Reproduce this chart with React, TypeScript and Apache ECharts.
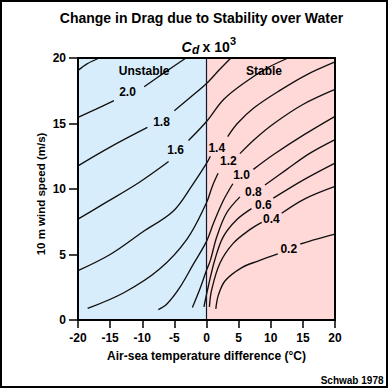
import React, { useEffect, useRef } from "react";
import * as echarts from "echarts";

const FONT = "'Liberation Sans', Arial, Helvetica, sans-serif";

// Axis ranges
const xMin = -20;
const xMax = 20;
const yMin = 0;
const yMax = 20;
const tickStep = 5;

// Contour segments (air-sea temperature difference, wind speed)
const c22 = [[-20, 19.05], [-18.6, 19.55], [-16.7, 20]];
const c20Low = [[-20, 15.47], [-17.2, 16.1], [-14.4, 16.74]];
const c20High = [[-9.7, 17.8], [-6.5, 18.9], [-3.2, 20]];
const c18Low = [[-20, 11.77], [-15, 13.2], [-9.2, 14.7]];
const c18High = [[-5.0, 15.98], [-2.5, 17.0], [0, 18.05], [2, 19.1], [3.8, 20]];
const c16Low = [[-20, 7.7], [-15.9, 8.9], [-10.5, 10.5], [-5.9, 12.1]];
const c16High = [[-2.8, 13.7], [0, 15.15], [2.7, 16.85], [6.3, 18.25], [9.5, 19.25], [12.7, 20]];
const c14Low = [[-20, 3.77], [-15, 5.0], [-10, 6.7], [-5.2, 8.3], [-2.2, 10.3], [0, 11.95], [0.6, 12.5]];
const c14High = [[3.3, 14.0], [4.8, 15.0], [7.4, 16.2], [11.5, 17.55], [15.5, 18.7], [20, 19.7]];
const c12Low = [[-18.5, 0.88], [-12.8, 2.1], [-7.4, 3.85], [-3.0, 6.2], [0, 8.95], [0.9, 10.2], [1.8, 11.2]];
const c12High = [[5.2, 12.7], [7.5, 13.8], [10.5, 15.0], [15, 16.45], [20, 17.6]];
const c10Low = [[-7.5, 0.8], [-6.2, 1.2], [-4.2, 2.45], [-2, 4.3], [0, 6.0], [1.1, 7.4], [2.6, 9.1], [4.1, 10.4]];
const c10High = [[7.3, 11.5], [10.5, 12.65], [15.2, 14.15], [20, 15.55]];
const c08Low = [[-2.2, 0.95], [-1.0, 2.4], [0, 3.8], [0.6, 4.55], [1.6, 6.35], [3.1, 8.15], [5.2, 9.4]];
const c08High = [[9.1, 10.3], [12.5, 11.5], [16, 12.7], [20, 13.77]];
const c06Low = [[-0.4, 1.0], [0.25, 2.5], [1.3, 4.6], [2.6, 6.35], [4.7, 7.65], [7.0, 8.5]];
const c06High = [[10.4, 9.3], [15.1, 10.7], [20, 11.98]];
const c04Low = [[0.45, 1.0], [0.8, 2.3], [2.1, 4.35], [4.15, 5.85], [6.75, 6.9], [8.6, 7.45]];
const c04High = [[11.7, 8.15], [15.3, 9.25], [20, 10.2]];
const c02Low = [[1.45, 0.85], [1.85, 1.9], [2.9, 3.0], [5.5, 4.0], [8.0, 4.5], [11.1, 5.05]];
const c02High = [[14.6, 5.8], [17, 6.15], [20, 6.55]];

const segments = [
  c22, c20Low, c20High, c18Low, c18High, c16Low, c16High, c14Low, c14High,
  c12Low, c12High, c10Low, c10High, c08Low, c08High, c06Low, c06High,
  c04Low, c04High, c02Low, c02High,
];

// Contour labels
const labelTexts = ["2.0", "1.8", "1.6", "1.4", "1.2", "1.0", "0.8", "0.6", "0.4", "0.2"];
const labelXs = [-12.3, -7.0, -4.8, 1.6, 3.4, 5.45, 7.3, 8.85, 10.1, 12.8];
const labelYs = [17.4, 15.15, 12.95, 13.15, 12.1, 11.1, 9.8, 8.75, 7.7, 5.45];

// Region names
const regionTexts = ["Unstable", "Stable"];
const regionXs = [-9.7, 8.95];
const regionYs = [19.0, 19.0];

const BLUE = "#d8edfb";
const PINK = "#ffd8d8";

export default function App() {
  const ref = useRef<HTMLDivElement>(null);

  useEffect(() => {
    if (!ref.current) return;
    const chart = echarts.init(ref.current, undefined, { renderer: "svg" });

    const contourSeries = segments.map((seg) => ({
      type: "line",
      data: seg,
      smooth: 0.35,
      symbol: "none",
      silent: true,
      z: 2,
      lineStyle: { color: "#111", width: 1.35 },
    }));

    const allTexts = labelTexts.concat(regionTexts);
    const allXs = labelXs.concat(regionXs);
    const allYs = labelYs.concat(regionYs);

    const option: any = {
      animation: false,
      backgroundColor: "#fff",
      grid: { left: 78, right: 53, top: 58, bottom: 68, containLabel: false },
      xAxis: [
        {
          type: "value",
          min: xMin,
          max: xMax,
          interval: tickStep,
          position: "bottom",
          z: 10,
          axisLine: { show: true, onZero: false, lineStyle: { color: "#000", width: 2 } },
          axisTick: { show: true, length: 8, lineStyle: { color: "#000", width: 1.5 } },
          axisLabel: { color: "#000", fontSize: 12, fontWeight: "bold", fontFamily: FONT, margin: 12 },
          splitLine: { show: false },
        },
        {
          type: "value",
          min: xMin,
          max: xMax,
          interval: tickStep,
          position: "top",
          z: 10,
          axisLine: { show: true, onZero: false, lineStyle: { color: "#000", width: 2 } },
          axisTick: { show: false },
          axisLabel: { show: false },
          splitLine: { show: false },
        },
      ],
      yAxis: [
        {
          type: "value",
          min: yMin,
          max: yMax,
          interval: tickStep,
          position: "left",
          z: 10,
          axisLine: { show: true, onZero: false, lineStyle: { color: "#000", width: 2 } },
          axisTick: { show: true, length: 9, lineStyle: { color: "#000", width: 1.5 } },
          axisLabel: { color: "#000", fontSize: 12, fontWeight: "bold", fontFamily: FONT, margin: 12 },
          splitLine: { show: false },
        },
        {
          type: "value",
          min: yMin,
          max: yMax,
          interval: tickStep,
          position: "right",
          z: 10,
          axisLine: { show: true, onZero: false, lineStyle: { color: "#000", width: 2 } },
          axisTick: { show: false },
          axisLabel: { show: false },
          splitLine: { show: false },
        },
      ],
      series: [
        {
          type: "line",
          data: [[xMin, yMin], [xMax, yMax]],
          symbol: "none",
          silent: true,
          z: 1,
          lineStyle: { width: 0, opacity: 0 },
          markArea: {
            silent: true,
            data: [
              [{ coord: [xMin, yMin], itemStyle: { color: BLUE } }, { coord: [0, yMax] }],
              [{ coord: [0, yMin], itemStyle: { color: PINK } }, { coord: [xMax, yMax] }],
            ],
          },
          markLine: {
            silent: true,
            symbol: "none",
            label: { show: false },
            lineStyle: { color: "#0d1a2e", width: 1.2, type: "solid" },
            data: [{ xAxis: 0 }],
          },
        },
        ...contourSeries,
        {
          type: "custom",
          silent: true,
          z: 5,
          data: allTexts.map((t, i) => [allXs[i], allYs[i], i]),
          renderItem: (params: any, api: any) => {
            const p = api.coord([api.value(0), api.value(1)]);
            const idx = api.value(2);
            return {
              type: "text",
              x: p[0],
              y: p[1],
              style: {
                text: allTexts[idx],
                fill: "#000",
                fontSize: 12,
                fontWeight: "bold",
                fontFamily: FONT,
                align: "center",
                verticalAlign: "middle",
              },
            };
          },
        },
      ],
      graphic: [
        {
          type: "rect",
          shape: { x: 1, y: 1, width: 386, height: 386 },
          style: { fill: "none", stroke: "#000", lineWidth: 2 },
          z: 100,
        },
        {
          type: "text",
          x: 201.5,
          y: 17.5,
          style: {
            text: "Change in Drag due to Stability over Water",
            fontSize: 14, fontWeight: "bold", fontFamily: FONT, fill: "#000",
            align: "center", verticalAlign: "middle", textAlign: "center", textVerticalAlign: "middle",
          },
        },
        {
          type: "text",
          x: 181.5,
          y: 46.5,
          style: {
            text: "C", fontSize: 14, fontWeight: "bold", fontStyle: "italic", fontFamily: FONT, fill: "#000",
            align: "left", verticalAlign: "middle", textAlign: "left", textVerticalAlign: "middle",
          },
        },
        {
          type: "text",
          x: 192,
          y: 50,
          style: {
            text: "d", fontSize: 12, fontWeight: "bold", fontStyle: "italic", fontFamily: FONT, fill: "#000",
            align: "left", verticalAlign: "middle", textAlign: "left", textVerticalAlign: "middle",
          },
        },
        {
          type: "text",
          x: 202.5,
          y: 46.5,
          style: {
            text: "x 10", fontSize: 14, fontWeight: "bold", fontFamily: FONT, fill: "#000",
            align: "left", verticalAlign: "middle", textAlign: "left", textVerticalAlign: "middle",
          },
        },
        {
          type: "text",
          x: 230,
          y: 41,
          style: {
            text: "3", fontSize: 11, fontWeight: "bold", fontFamily: FONT, fill: "#000",
            align: "left", verticalAlign: "middle", textAlign: "left", textVerticalAlign: "middle",
          },
        },
        {
          type: "text",
          x: 206.5,
          y: 355.5,
          style: {
            text: "Air-sea temperature difference (°C)",
            fontSize: 12, fontWeight: "bold", fontFamily: FONT, fill: "#000",
            align: "center", verticalAlign: "middle", textAlign: "center", textVerticalAlign: "middle",
          },
        },
        {
          type: "text",
          x: 41,
          y: 194,
          rotation: Math.PI / 2,
          style: {
            text: "10 m wind speed (m/s)",
            fontSize: 11.5, fontWeight: "bold", fontFamily: FONT, fill: "#000",
            align: "center", verticalAlign: "middle", textAlign: "center", textVerticalAlign: "middle",
          },
        },
        {
          type: "text",
          x: 383.5,
          y: 380.5,
          style: {
            text: "Schwab 1978",
            fontSize: 10, fontWeight: "bold", fontFamily: FONT, fill: "#000",
            align: "right", verticalAlign: "middle", textAlign: "right", textVerticalAlign: "middle",
          },
        },
      ],
    };

    chart.setOption(option);
    return () => chart.dispose();
  }, []);

  return (
    <div
      ref={ref}
      style={{ position: "fixed", left: 0, top: 0, width: 388, height: 388, background: "#fff" }}
    />
  );
}
